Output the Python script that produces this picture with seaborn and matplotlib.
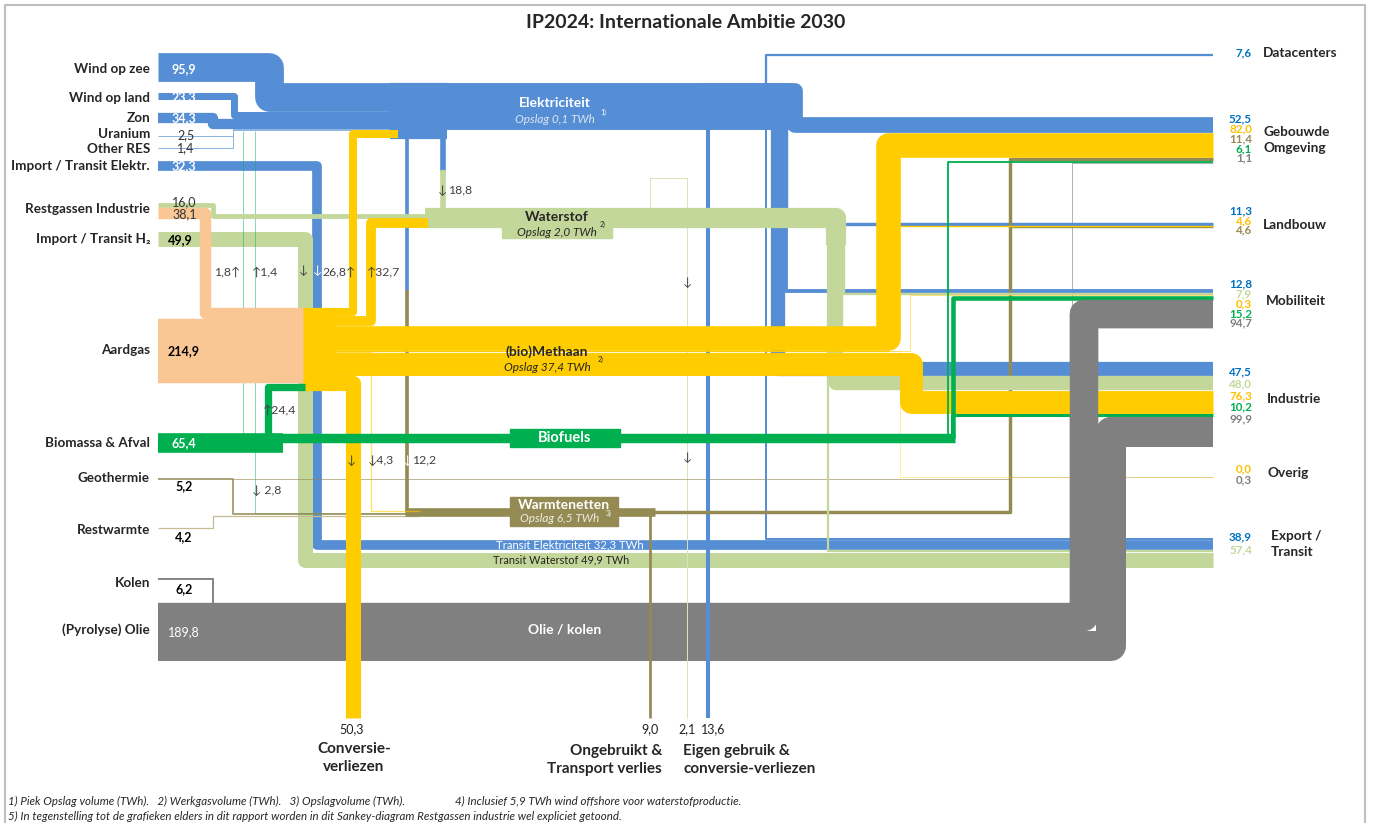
import matplotlib.pyplot as plt
from matplotlib.patches import Rectangle
import seaborn as sns

# ---------------------------------------------------------------
# Data (TWh), afgelezen uit het Sankey-diagram
# ---------------------------------------------------------------
elek_bronnen = ["Wind op zee", "Wind op land", "Zon", "Uranium", "Other RES"]
elek_aanbod = [95.9, 23.3, 34.3, 2.5, 1.4]
import_elek = 32.3
restgassen = [16.0, 38.1]          # naar waterstof, naar methaan
import_h2 = 49.9
aardgas = 214.9
biomassa = 65.4
geothermie = 5.2
restwarmte = 4.2
kolen = 6.2
olie = 189.8

# omzettingen
gas_naar_elek = 26.8
gas_naar_h2 = 32.7
elektrolyse = 18.8
bio_naar_gas = 24.4
bio_naar_elek = [1.8, 1.4]
bio_naar_warmte = 2.8
gas_naar_warmte = 4.3
naar_warmte = 12.2

# verliezen (onderkant)
conversieverlies = 50.3
ongebruikt_warmte = 9.0
ongebruikt_h2 = 2.1
eigen_gebruik = 13.6

# vraag per sector (rechterkant), per drager
sectoren = ["Datacenters", "Gebouwde\nOmgeving", "Landbouw", "Mobiliteit",
            "Industrie", "Overig", "Export /\nTransit"]
vraag_elek = [7.6, 52.5, 11.3, 12.8, 47.5, None, 38.9]
vraag_h2 = [None, None, None, 7.9, 48.0, None, 57.4]
vraag_gas = [None, 82.0, 4.6, 0.3, 76.3, 0.0, None]
vraag_warmte = [None, 11.4, 4.6, None, None, None, None]
vraag_bio = [None, 6.1, None, 15.2, 10.2, None, None]
vraag_olie = [None, 1.1, None, 94.7, 99.9, 0.3, None]

# ---------------------------------------------------------------
BLAUW, LBLAUW = "#558ED5", "#8DB4E2"
GEEL = "#FFCC00"
LGROEN = "#C4D79B"
GROEN = "#00B050"
OLIJF, LOLIJF = "#948A54", "#C4BD97"
GRIJS = "#808080"
ZALM = "#FAC794"
tekst_kleur = ["#0070C0", "#C4D79B", "#FFC000", "#948A54", "#00B050", "#808080"]

sns.set_style("white")
plt.rcParams["font.family"] = ["Lato", "DejaVu Sans"]

DPI = 100
S = 0.3                 # pixels per TWh
XL, XR = 158, 1213      # begin bronnen / eind sectoren

fig = plt.figure(figsize=(13.73, 8.23), dpi=DPI)
ax = fig.add_axes([0, 0, 1, 1])
ax.set_xlim(0, 1373)
ax.set_ylim(823, 0)
ax.axis("off")


def dikte(v):
    return max(v * S, 1.0)


def stroom(pts, v, kleur, z, alpha=1.0, join="round"):
    xs = [p[0] for p in pts]
    ys = [p[1] for p in pts]
    ax.plot(xs, ys, color=kleur, lw=dikte(v) * 72 / DPI, solid_joinstyle=join,
            solid_capstyle="butt", alpha=alpha, zorder=z)


def fmt(v):
    return f"{v:.1f}".replace(".", ",")


# rechterkant: stapeling per sector
sector_top = [54, 117, 222, 289, 362, 477, 538.5]
dragers = [vraag_elek, vraag_h2, vraag_gas, vraag_warmte, vraag_bio, vraag_olie]
yr = {}
for j, top in enumerate(sector_top):
    y = top
    for i, d in enumerate(dragers):
        if d[j] is None:
            continue
        yr[i, j] = y + d[j] * S / 2
        y += d[j] * S

e_top = sector_top[6]
extra_elek = vraag_elek[6] - import_elek
y_exp_elek = e_top + extra_elek * S / 2
y_tr_elek = e_top + extra_elek * S + import_elek * S / 2
h_top = e_top + vraag_elek[6] * S
extra_h2 = vraag_h2[6] - import_h2
y_exp_h2 = h_top + extra_h2 * S / 2
y_tr_h2 = h_top + extra_h2 * S + import_h2 * S / 2

# ---------------- elektriciteit ----------------
trunk_top = 83
bron_top = [53, 93, 113, 136, 148]
bocht_x = [268.5, 234, 213, 233, 233]
y = trunk_top
for v, top, bx in zip(elek_aanbod, bron_top, bocht_x):
    w = v * S
    ys = top + w / 2 if v > 5 else top
    yc = y + w / 2
    y += w
    stroom([(XL, ys), (bx, ys), (bx, yc), (400, yc)], v, BLAUW if v > 5 else LBLAUW, 4)
elek_bodem = y

w1 = sum(elek_aanbod) + gas_naar_elek + sum(bio_naar_elek)
stroom([(390, trunk_top + w1 * S / 2), (447, trunk_top + w1 * S / 2)], w1, BLAUW, 4, join="miter")
w2 = w1 - elektrolyse - naar_warmte
stroom([(440, trunk_top + w2 * S / 2), (790, trunk_top + w2 * S / 2)], w2, BLAUW, 4, join="miter")

stroom([(700, trunk_top + vraag_elek[1] * S / 2), (795, trunk_top + vraag_elek[1] * S / 2),
        (795, yr[0, 1]), (XR, yr[0, 1])], vraag_elek[1], BLAUW, 4)
stroom([(766, 95), (766, yr[0, 0]), (XR, yr[0, 0])], vraag_elek[0], BLAUW, 4)
stroom([(778, 110), (778, yr[0, 4]), (XR, yr[0, 4])], vraag_elek[4], BLAUW, 4)
stroom([(786, 110), (786, yr[0, 3]), (XR, yr[0, 3])], vraag_elek[3], BLAUW, 4)
stroom([(786, 110), (786, yr[0, 2]), (XR, yr[0, 2])], vraag_elek[2], BLAUW, 4)
stroom([(766, 110), (766, y_exp_elek), (XR, y_exp_elek)], extra_elek, BLAUW, 4)
stroom([(708, 110), (708, 718)], eigen_gebruik, BLAUW, 4)
stroom([(443, 120), (443, 172)], elektrolyse, BLAUW, 4)
stroom([(407, 120), (407, 291)], naar_warmte, BLAUW, 4)

y_imp = 161 + import_elek * S / 2
stroom([(XL, y_imp), (316.5, y_imp), (316.5, y_tr_elek), (XR, y_tr_elek)], import_elek, BLAUW, 2)

# ---------------- waterstof ----------------
y_imp_h2 = 232 + import_h2 * S / 2
stroom([(XL, y_imp_h2), (304.5, y_imp_h2), (304.5, y_tr_h2), (XR, y_tr_h2)], import_h2, LGROEN, 2)
y_rg = 202.5 + restgassen[0] * S / 2
stroom([(XL, y_rg), (213, y_rg), (213, 215.5), (430, 215.5)], restgassen[0], LGROEN, 5)
stroom([(443, 170), (443, 215)], elektrolyse, LGROEN, 5)
h2_band = restgassen[0] + elektrolyse + gas_naar_h2
band_top = 208
yb = band_top + h2_band * S / 2
stroom([(425, yb), (836, yb), (836, 245)], h2_band, LGROEN, 5)
stroom([(836, 230), (836, yr[1, 4]), (XR, yr[1, 4])], vraag_h2[4], LGROEN, 5)
stroom([(843.5, 230), (843.5, yr[1, 3]), (XR, yr[1, 3])], vraag_h2[3], LGROEN, 5)
stroom([(828, 230), (828, y_exp_h2), (XR, y_exp_h2)], extra_h2, LGROEN, 5)
stroom([(650, 215), (650, 178), (687, 178), (687, 718)], ongebruikt_h2, "#D8E4BC", 3)

# ---------------- methaan ----------------
aard_top = 319
node_top = aard_top - restgassen[1] * S
stroom([(XL, aard_top + aardgas * S / 2), (305, aard_top + aardgas * S / 2)], aardgas, ZALM, 6, join="miter")
y_rgc = 207.3 + restgassen[1] * S / 2
stroom([(XL, y_rgc), (204.5, y_rgc), (204.5, node_top + restgassen[1] * S / 2),
        (305, node_top + restgassen[1] * S / 2)], restgassen[1], ZALM, 6)
bio_top = 433
y_bg = bio_top + bio_naar_gas * S / 2
y_bg2 = aard_top + aardgas * S + bio_naar_gas * S / 2
stroom([(XL, y_bg), (268, y_bg), (268, y_bg2), (305, y_bg2)], bio_naar_gas, GROEN, 7)

node = restgassen[1] + aardgas + bio_naar_gas
stroom([(303, node_top + node * S / 2), (336, node_top + node * S / 2)], node, GEEL, 6, join="miter")

y = node_top
c = y + gas_naar_elek * S / 2
y += gas_naar_elek * S
stroom([(330, c), (352.5, c), (352.5, elek_bodem + gas_naar_elek * S / 2),
        (398, elek_bodem + gas_naar_elek * S / 2)], gas_naar_elek, GEEL, 6)
c = y + gas_naar_h2 * S / 2
y += gas_naar_h2 * S
y_smr = band_top + h2_band * S - gas_naar_h2 * S / 2
stroom([(330, c), (371, c), (371, y_smr), (428, y_smr)], gas_naar_h2, GEEL, 6)

gas_band = [(vraag_gas[1], 888, yr[2, 1], 6, 1.0),
            (vraag_gas[2], 888, yr[2, 2], 5.9, 1.0),
            (vraag_gas[3], 910, yr[2, 3], 5.8, 0.5),
            (vraag_gas[5], 900, yr[2, 5], 5.8, 0.35),
            (gas_naar_warmte, 371, 511, 5.8, 0.6),
            (vraag_gas[4], 911, yr[2, 4], 6, 1.0)]
for v, bx, ye, z, a in gas_band:
    c = y + v * S / 2
    y += v * S
    eind = (420, ye) if bx == 371 else (XR, ye)
    stroom([(330, c), (bx, c), (bx, ye), eind], v, GEEL, z, alpha=a)
c = y + conversieverlies * S / 2
stroom([(330, c), (352.5, c), (352.5, 718)], conversieverlies, GEEL, 6)

# ---------------- biomassa ----------------
stroom([(XL, bio_top + biomassa * S / 2), (283, bio_top + biomassa * S / 2)], biomassa, GROEN, 7, join="miter")
bio_band = sum(v for v in vraag_bio if v)
yb = bio_top + bio_band * S / 2
stroom([(270, yb), (955, yb)], bio_band, GROEN, 7, join="miter")
stroom([(952.7, yb), (952.7, yr[4, 3]), (XR, yr[4, 3])], vraag_bio[3], GROEN, 7)
stroom([(947.5, yb), (947.5, yr[4, 1]), (XR, yr[4, 1])], vraag_bio[1], GROEN, 7)
stroom([(952, yb), (952, yr[4, 4]), (XR, yr[4, 4])], vraag_bio[4], GROEN, 7)
for v, bx in zip(bio_naar_elek, [243, 255]):
    stroom([(bx, 436), (bx, 131)], v, GROEN, 3, alpha=0.45)
stroom([(255, 445), (255, 513), (420, 513)], bio_naar_warmte, GROEN, 3, alpha=0.45)

# ---------------- warmte ----------------
stroom([(407, 290), (407, 511), (420, 511)], naar_warmte, OLIJF, 4.5)
stroom([(XL, 478.5), (233, 478.5), (233, 513.5), (420, 513.5)], geothermie, OLIJF, 3)
stroom([(233, 478.5), (1010, 478.5)], 0, OLIJF, 3, alpha=0.6)
stroom([(XL, 528.3), (213, 528.3), (213, 515.8), (420, 515.8)], restwarmte, LOLIJF, 3)
warm_in = naar_warmte + gas_naar_warmte + bio_naar_warmte + geothermie + restwarmte
yw = 508 + warm_in * S / 2
stroom([(405, yw), (655, yw)], warm_in, OLIJF, 4.5, join="miter")
stroom([(650, yw), (650, 718)], ongebruikt_warmte, OLIJF, 4.5)
stroom([(640, yw), (1010, yw), (1010, yr[3, 1]), (XR, yr[3, 1])], vraag_warmte[1], OLIJF, 4.5)
stroom([(640, yw), (1010, yw), (1010, yr[3, 2]), (XR, yr[3, 2])], vraag_warmte[2], OLIJF, 4.5)

# ---------------- olie / kolen ----------------
stroom([(XL, 578.5), (213, 578.5), (213, 603)], kolen, GRIJS, 1, join="miter")
olie_top = 603
c_mob = olie_top + vraag_olie[3] * S / 2
c_ind = olie_top + vraag_olie[3] * S + vraag_olie[4] * S / 2
stroom([(XL, c_mob), (1084, c_mob), (1084, yr[5, 3]), (XR, yr[5, 3])], vraag_olie[3], GRIJS, 1)
stroom([(XL, c_ind), (1111, c_ind), (1111, yr[5, 4]), (XR, yr[5, 4])], vraag_olie[4], GRIJS, 1)
stroom([(1084, c_mob), (1084, yr[5, 3]), (XR, yr[5, 3])], vraag_olie[3], GRIJS, 9)
stroom([(1111, c_ind), (1111, yr[5, 4]), (XR, yr[5, 4])], vraag_olie[4], GRIJS, 9)
stroom([(1072, 610), (1072, yr[5, 1]), (XR, yr[5, 1])], vraag_olie[1], GRIJS, 2, alpha=0.6)
stroom([(1010, yr[5, 5]), (XR, yr[5, 5])], vraag_olie[5], GRIJS, 2, alpha=0.35)

# ---------------------------------------------------------------
# Teksten
# ---------------------------------------------------------------
T = dict(zorder=12, va="center")
ax.text(686, 22, "IP2024: Internationale Ambitie 2030", ha="center", fontsize=14,
        fontweight="bold", **T)

links = ["Wind op zee", "Wind op land", "Zon", "Uranium", "Other RES", "Import / Transit Elektr.",
         "Restgassen Industrie", "Import / Transit H₂", "Aardgas", "Biomassa & Afval",
         "Geothermie", "Restwarmte", "Kolen", "(Pyrolyse) Olie"]
links_y = [69, 98, 118, 134, 149, 166, 209, 239, 350, 443, 478, 530, 583, 630]
for naam, yy in zip(links, links_y):
    ax.text(150, yy, naam, ha="right", fontsize=9.7, fontweight="bold", **T)

bron_waarden = elek_aanbod + [import_elek] + restgassen + [import_h2, aardgas, biomassa,
                                                          geothermie, restwarmte, kolen, olie]
bron_pos = [(172, 69, "white", "bold"), (172, 97, "white", "bold"), (172, 118, "white", "bold"),
            (177, 135, "#333333", "normal"), (177, 148, "#333333", "normal"),
            (172, 166, "white", "bold"), (172, 202, "#333333", "normal"),
            (172, 214, "#333333", "normal"), (168, 240, "black", "bold"),
            (168, 351, "black", "bold"), (172, 443, "white", "bold"),
            (175, 486, "black", "bold"), (175, 537, "black", "bold"),
            (175, 589, "black", "bold"), (168, 632, "white", "normal")]
for v, (xx, yy, kl, fw) in zip(bron_waarden, bron_pos):
    ax.text(xx, yy, fmt(v), color=kl, fontweight=fw, fontsize=9, ha="left", **T)

# rechts
naam_y = [53, 140, 225, 301, 399, 473, 544]
naam_x = [1263, 1263, 1263, 1266, 1267, 1267, 1271]
waarde_y0 = [53, 119, 211, 284, 372, 469, 537]
waarde_dy = [10, 9.8, 9.6, 9.8, 11.7, 11, 12.5]
for j, naam in enumerate(sectoren):
    ax.text(naam_x[j], naam_y[j], naam, ha="left", fontsize=9.8, fontweight="bold",
            linespacing=1.4, **T)
    k = 0
    for i, d in enumerate(dragers):
        if d[j] is None:
            continue
        ax.text(1252, waarde_y0[j] + k * waarde_dy[j], fmt(d[j]), ha="right",
                color=tekst_kleur[i], fontsize=8.4, fontweight="bold", **T)
        k += 1

# dragers / knopen
ax.text(555, 103, "Elektriciteit", ha="center", color="white", fontsize=10, fontweight="bold", **T)
ax.text(555, 119, "Opslag 0,1 TWh", ha="center", color="#DCE6F2", fontsize=8.5, style="italic", **T)
ax.text(600, 112, "1)", color="white", fontsize=5, **T)

ax.add_patch(Rectangle((502, 226), 110, 12, color=LGROEN, zorder=5))
ax.text(557, 217, "Waterstof", ha="center", fontsize=10, fontweight="bold", **T)
ax.text(557, 232, "Opslag 2,0 TWh", ha="center", fontsize=8.5, style="italic", **T)
ax.text(600, 224, "2)", fontsize=5, **T)

ax.text(547, 352, "(bio)Methaan", ha="center", fontsize=10, fontweight="bold", **T)
ax.text(547, 367, "Opslag 37,4 TWh", ha="center", fontsize=8.5, style="italic", **T)
ax.text(598, 359, "2)", fontsize=5, **T)

ax.add_patch(Rectangle((510, 429), 110, 18, color=GROEN, zorder=8))
ax.text(565, 438, "Biofuels", ha="center", color="white", fontsize=10.5, fontweight="bold", **T)

ax.add_patch(Rectangle((510, 497), 108, 29, color=OLIJF, zorder=8))
ax.text(564, 505, "Warmtenetten", ha="center", color="white", fontsize=10, fontweight="bold", **T)
ax.text(560, 519, "Opslag 6,5 TWh", ha="center", color="#EEECE1", fontsize=8.5, style="italic", **T)
ax.text(606, 513, "3)", color="white", fontsize=5, **T)

ax.text(565, 629, "Olie / kolen", ha="center", color="white", fontsize=10, fontweight="bold", **T)
ax.text(570, y_tr_elek, f"Transit Elektriciteit {fmt(import_elek)} TWh", ha="center",
        color="white", fontsize=8.2, **T)
ax.text(561, y_tr_h2, f"Transit Waterstof {fmt(import_h2)} TWh", ha="center",
        color="#222222", fontsize=7.8, **T)

# pijltjes bij omzettingen
A = dict(fontsize=8.8, color="#404040", **T)
ax.text(438, 190, "↓", ha="left", **A)
ax.text(448, 190, fmt(elektrolyse), ha="left", **A)
ax.text(240, 272, fmt(bio_naar_elek[0]) + "↑", ha="right", **A)
ax.text(252, 272, "↑" + fmt(bio_naar_elek[1]), ha="left", **A)
ax.text(303, 270, "↓", ha="center", **A)
ax.text(317, 270, "↓", ha="center", fontsize=8.8, color="white", zorder=12, va="center")
ax.text(356, 272, fmt(gas_naar_elek) + "↑", ha="right", **A)
ax.text(367, 272, "↑" + fmt(gas_naar_h2), ha="left", **A)
ax.text(263, 410, "↑" + fmt(bio_naar_gas), ha="left", **A)
ax.text(352, 460, "↓", ha="center", **A)
ax.text(368, 460, "↓" + fmt(gas_naar_warmte), ha="left", **A)
ax.text(403, 460, "↓", ha="left", fontsize=8.8, color="white", zorder=12, va="center")
ax.text(412, 460, fmt(naar_warmte), ha="left", **A)
ax.text(252, 490, "↓ " + fmt(bio_naar_warmte), ha="left", **A)
ax.text(687, 283, "↓", ha="center", **A)
ax.text(687, 457, "↓", ha="center", **A)

# onderkant
for v, xx in zip([conversieverlies, ongebruikt_warmte, ongebruikt_h2, eigen_gebruik],
                 [352, 650, 687, 713]):
    ax.text(xx, 729, fmt(v), ha="center", fontsize=9, color="#222222", **T)
ax.text(354, 758, "Conversie-\nverliezen", ha="center", fontsize=11, fontweight="bold",
        linespacing=1.35, **T)
ax.text(662, 760, "Ongebruikt &\nTransport verlies", ha="right", fontsize=11,
        fontweight="bold", linespacing=1.35, **T)
ax.text(683, 760, "Eigen gebruik &\nconversie-verliezen", ha="left", fontsize=11,
        fontweight="bold", linespacing=1.35, **T)

ax.text(8, 801, "1) Piek Opslag volume (TWh).   2) Werkgasvolume (TWh).   3) Opslagvolume (TWh).",
        ha="left", fontsize=8.3, style="italic", **T)
ax.text(455, 801, "4) Inclusief 5,9 TWh wind offshore voor waterstofproductie.",
        ha="left", fontsize=8.3, style="italic", **T)
ax.text(8, 816, "5) In tegenstelling tot de grafieken elders in dit rapport worden in dit "
        "Sankey-diagram Restgassen industrie wel expliciet getoond.", ha="left",
        fontsize=8.3, style="italic", **T)

# kader
ax.plot([5, 5, 1365, 1365], [823, 5, 5, 823], color="#BFBFBF", lw=1.5, zorder=0)

fig.savefig("out.png", dpi=DPI)
